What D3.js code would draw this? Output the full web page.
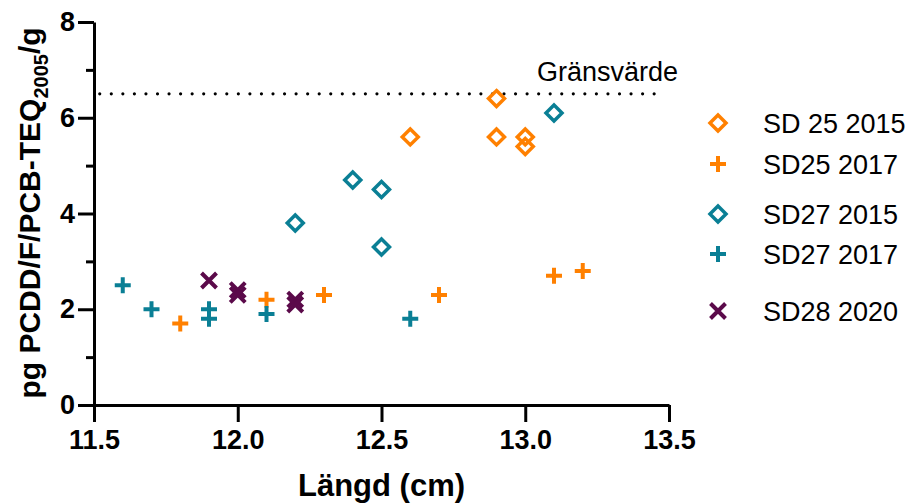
<!DOCTYPE html>
<html>
<head>
<meta charset="utf-8">
<script src="https://cdn.jsdelivr.net/npm/d3@7"></script>
<style>
  body { margin: 0; background: #fff; }
  svg text { font-family: "Liberation Sans", Arial, sans-serif; }
</style>
</head>
<body>
<div id="chart"></div>
<script>
// data
const sd25_2015 = [[12.6, 5.6], [12.9, 6.4], [12.9, 5.6], [13.0, 5.6], [13.0, 5.4]];
const sd25_2017 = [[11.8, 1.7], [12.1, 2.2], [12.3, 2.3], [12.7, 2.3], [13.1, 2.7], [13.2, 2.8]];
const sd27_2015 = [[12.2, 3.8], [12.4, 4.7], [12.5, 4.5], [12.5, 3.3], [13.1, 6.1]];
const sd27_2017 = [[11.6, 2.5], [11.7, 2.0], [11.9, 2.0], [11.9, 1.8], [12.1, 1.9], [12.6, 1.8]];
const sd28_2020 = [[11.9, 2.6], [12.0, 2.4], [12.0, 2.3], [12.2, 2.2], [12.2, 2.1]];
const seriesNames = ["SD 25 2015", "SD25 2017", "SD27 2015", "SD27 2017", "SD28 2020"];
const limitValue = 6.5;
const xTicks = [11.5, 12.0, 12.5, 13.0, 13.5];
const yTicks = [0, 2, 4, 6, 8];
const yMinorTicks = [1, 3, 5, 7];

const orange = "#ff8000";
const teal = "#0a7f95";
const purple = "#5b0a4a";

const series = [
    {name: seriesNames[0], data: sd25_2015, shape: "diamond", color: orange, legendY: 123},
    {name: seriesNames[1], data: sd25_2017, shape: "plus", color: orange, legendY: 164},
    {name: seriesNames[2], data: sd27_2015, shape: "diamond", color: teal, legendY: 214},
    {name: seriesNames[3], data: sd27_2017, shape: "plus", color: teal, legendY: 254},
    {name: seriesNames[4], data: sd28_2020, shape: "cross", color: purple, legendY: 311}
];

const width = 908, height = 504;

const svg = d3.select("#chart").append("svg")
    .attr("width", width)
    .attr("height", height);

const x = d3.scaleLinear().domain([11.5, 13.5]).range([94, 669]);
const y = d3.scaleLinear().domain([0, 8]).range([405, 22]);

// axes
svg.append("g")
    .attr("transform", `translate(0,${y(0)})`)
    .call(d3.axisBottom(x).tickValues(xTicks).tickFormat(d3.format(".1f")).tickSize(17).tickSizeOuter(0).tickPadding(8));

svg.append("g")
    .attr("transform", `translate(${x(11.5)},0)`)
    .call(d3.axisLeft(y).tickValues(yTicks).tickFormat(d3.format("d")).tickSize(16).tickSizeOuter(0).tickPadding(3));

svg.append("g")
    .attr("transform", `translate(${x(11.5)},0)`)
    .call(d3.axisLeft(y).tickValues(yMinorTicks).tickFormat("").tickSize(8).tickSizeOuter(0))
    .select(".domain").remove();

svg.selectAll(".domain").attr("stroke", "#000").attr("stroke-width", 3);
svg.selectAll(".tick line").attr("stroke", "#000").attr("stroke-width", 3);
svg.selectAll(".tick text")
    .attr("fill", "#000")
    .style("font-size", "27px")
    .style("font-weight", "bold");

// axis titles
svg.append("text")
    .attr("x", x(12.5))
    .attr("y", 496)
    .attr("text-anchor", "middle")
    .style("font-size", "31px")
    .style("font-weight", "bold")
    .text("Längd (cm)");

const yTitle = svg.append("text")
    .attr("transform", `translate(40,213) rotate(-90)`)
    .attr("text-anchor", "middle")
    .style("font-size", "30px")
    .style("font-weight", "bold");
yTitle.append("tspan").text("pg PCDD/F/PCB-TEQ");
yTitle.append("tspan").attr("dy", 8).style("font-size", "20px").text("2005");
yTitle.append("tspan").attr("dy", -8).text("/g");

// limit line
svg.append("line")
    .attr("x1", x(11.52))
    .attr("x2", x(13.46))
    .attr("y1", y(limitValue))
    .attr("y2", y(limitValue))
    .attr("stroke", "#000")
    .attr("stroke-width", 3.2)
    .attr("stroke-linecap", "round")
    .attr("stroke-dasharray", "0 11.55");

svg.append("text")
    .attr("x", 678)
    .attr("y", 81)
    .attr("text-anchor", "end")
    .style("font-size", "27px")
    .text("Gränsvärde");

function drawMarker(g, shape, color) {
    if (shape === "diamond") {
        g.append("path")
            .attr("d", "M0,-8 L8,0 L0,8 L-8,0 Z")
            .attr("fill", "none")
            .attr("stroke", color)
            .attr("stroke-width", 3.5);
    } else if (shape === "plus") {
        g.append("path")
            .attr("d", "M-8,0 L8,0 M0,-8 L0,8")
            .attr("stroke", color)
            .attr("stroke-width", 4);
    } else {
        g.append("path")
            .attr("d", "M-7.5,-7.5 L7.5,7.5 M-7.5,7.5 L7.5,-7.5")
            .attr("stroke", color)
            .attr("stroke-width", 4);
    }
}

// points
series.forEach(s => {
    svg.append("g")
        .selectAll("g")
        .data(s.data)
        .enter().append("g")
        .attr("transform", d => `translate(${x(d[0])},${y(d[1])})`)
        .each(function () {
            drawMarker(d3.select(this), s.shape, s.color);
        });
});

// legend
const legend = svg.append("g");
series.forEach(s => {
    const row = legend.append("g").attr("transform", `translate(718,${s.legendY})`);
    drawMarker(row, s.shape, s.color);
    row.append("text")
        .attr("x", 45)
        .attr("y", 10)
        .style("font-size", "27px")
        .text(s.name);
});
</script>
</body>
</html>
